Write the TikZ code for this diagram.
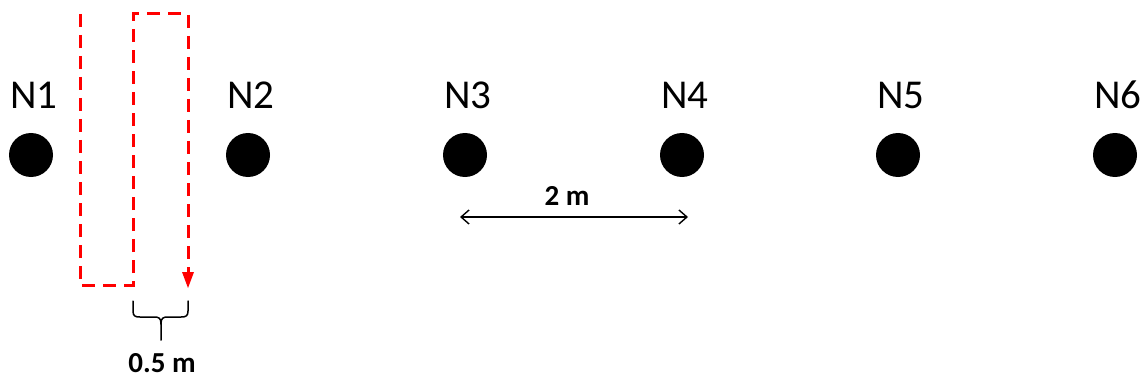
\documentclass[tikz,border=0pt]{standalone}
\usepackage{fontspec}
\setmainfont{Carlito}
\usetikzlibrary{arrows.meta}
\begin{document}
\begin{tikzpicture}[x=1pt,y=-1pt,
  dot/.style={circle,fill=black,minimum size=44pt,inner sep=0pt},
  lab/.style={font=\fontsize{41}{46}\selectfont,inner sep=0pt,text=black},
  dim/.style={font=\bfseries\fontsize{29}{33}\selectfont,inner sep=0pt},
  pathline/.style={red,line width=3pt,dash pattern=on 13pt off 8pt},
  ruler/.style={black,line width=1.5pt}]
\useasboundingbox (0,0) rectangle (1140,385);
\foreach \i/\x in {1/31,2/248,3/465,4/682,5/898,6/1115}{
  \node[dot] (n\i) at (\x,155) {};
  \node[lab] (l\i) at (\x+3,95) {N\i};
}
% red scan path
\coordinate (p0) at (80,14);
\coordinate (p1) at (80,285);
\coordinate (p2) at (133,285);
\coordinate (p3) at (133,14);
\coordinate (p4) at (188,14);
\coordinate (p5) at (188,272);
\coordinate (p6) at (188,288);
\draw[pathline] (p0) -- (p1) -- (p2) -- (p3) -- (p4) -- (p5);
\fill[red] (182,272) -- (194,272) -- (p6) -- cycle;
% brace
\draw[ruler,line cap=round,line join=round] (133,301) -- (133,311)
  .. controls (133,316) and (135,317) .. (140,317) -- (154,317)
  .. controls (159,317) and (161,318) .. (161,324) -- (161,340);
\draw[ruler,line cap=round,line join=round] (188,301) -- (188,311)
  .. controls (188,316) and (186,317) .. (181,317) -- (168,317)
  .. controls (163,317) and (161,318) .. (161,324);
\node[dim] (half) at (162,363) {0.5 m};
% 2 m dimension
\coordinate (a) at (460,217);
\coordinate (b) at (688,217);
\draw[ruler,line width=1.4pt,{Straight Barb[length=8pt,width=14pt]}-{Straight Barb[length=8pt,width=14pt]}] (a) -- (b);
\node[dim] (two) at (567,196) {2 m};
\end{tikzpicture}
\end{document}
